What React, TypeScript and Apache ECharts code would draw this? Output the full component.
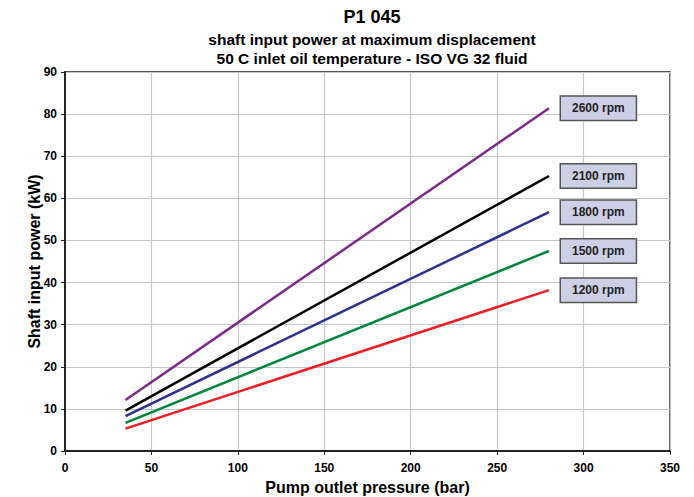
import React, { useEffect, useRef } from "react";
import * as echarts from "echarts";

const pressures = [35, 280];
const rpmLabels = ["2600 rpm", "2100 rpm", "1800 rpm", "1500 rpm", "1200 rpm"];
const power2600 = [12.1, 81.4];
const power2100 = [9.6, 65.3];
const power1800 = [8.3, 56.7];
const power1500 = [6.7, 47.5];
const power1200 = [5.3, 38.2];
const lineColors = ["#7b2a8a", "#000000", "#2e3192", "#00873c", "#ee1c24"];
const xTicks = [0, 50, 100, 150, 200, 250, 300, 350];
const yTicks = [0, 10, 20, 30, 40, 50, 60, 70, 80, 90];

const FONT = "Liberation Sans, Arial, sans-serif";

export default function App() {
  const ref = useRef<HTMLDivElement>(null);
  useEffect(() => {
    if (!ref.current) return;
    const chart = echarts.init(ref.current, undefined, { renderer: "svg" });
    const allSeries = [power2600, power2100, power1800, power1500, power1200];
    chart.setOption({
      animation: false,
      backgroundColor: "#ffffff",
      textStyle: { fontFamily: FONT },
      title: [
        { text: "P1 045", left: 367, top: 3, textAlign: "center", textStyle: { fontSize: 18, fontWeight: "bold", color: "#000", fontFamily: FONT } },
        { text: "shaft input power at maximum displacement", left: 367, top: 26, textAlign: "center", textStyle: { fontSize: 15.5, fontWeight: "bold", color: "#000", fontFamily: FONT } },
        { text: "50 C inlet oil temperature - ISO VG 32 fluid", left: 367, top: 45, textAlign: "center", textStyle: { fontSize: 15.5, fontWeight: "bold", color: "#000", fontFamily: FONT } },
      ],
      grid: { left: 65, right: 24, top: 72, bottom: 46, show: true, borderColor: "#222", borderWidth: 1.5, containLabel: false, outerBoundsMode: "none" },
      xAxis: {
        type: "value",
        min: xTicks[0],
        max: xTicks[xTicks.length - 1],
        interval: 50,
        name: "Pump outlet pressure (bar)",
        nameLocation: "middle",
        nameGap: 28,
        nameMoveOverlap: false,
        nameTextStyle: { fontSize: 16, fontWeight: "bold", color: "#000", fontFamily: FONT },
        axisLine: { show: true, lineStyle: { color: "#222", width: 2 } },
        axisTick: { show: true, length: 4, lineStyle: { color: "#222" } },
        axisLabel: { fontSize: 12, fontWeight: "bold", color: "#000", margin: 11, fontFamily: FONT },
        splitLine: { show: true, lineStyle: { color: "#c3c7ce", width: 1.2 } },
      },
      yAxis: {
        type: "value",
        min: yTicks[0],
        max: yTicks[yTicks.length - 1],
        interval: 10,
        name: "Shaft input power (kW)",
        nameLocation: "middle",
        nameGap: 23,
        nameMoveOverlap: false,
        nameTextStyle: { fontSize: 16, fontWeight: "bold", color: "#000", fontFamily: FONT },
        axisLine: { show: true, lineStyle: { color: "#222", width: 2 } },
        axisTick: { show: true, length: 4, lineStyle: { color: "#222" } },
        axisLabel: { fontSize: 12, fontWeight: "bold", color: "#000", margin: 8, fontFamily: FONT },
        splitLine: { show: true, lineStyle: { color: "#c3c7ce", width: 1.2 } },
      },
      series: allSeries.map((vals, i) => ({
        type: "line",
        name: rpmLabels[i],
        data: pressures.map((p, j) => [p, vals[j]]),
        showSymbol: false,
        symbol: "none",
        lineStyle: { color: lineColors[i], width: 2.5 },
        itemStyle: { color: lineColors[i] },
        endLabel: {
          show: true,
          formatter: rpmLabels[i],
          distance: 12,
          fontSize: 12,
          fontWeight: "bold",
          color: "#222",
          fontFamily: FONT,
          backgroundColor: "#cdd0e5",
          borderColor: "#555",
          borderWidth: 1.5,
          padding: [6, 11, 5, 11],
        },
      })),
    });
    return () => chart.dispose();
  }, []);
  return <div ref={ref} style={{ position: "fixed", left: 0, top: 0, width: 694, height: 497 }} />;
}
